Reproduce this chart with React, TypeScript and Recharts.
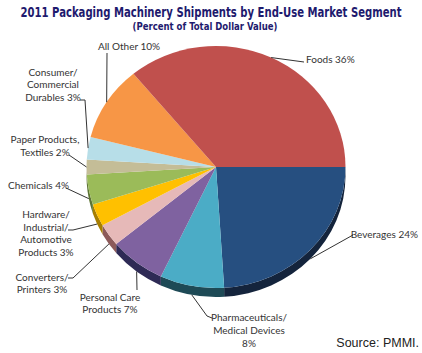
import React from 'react';
import { PieChart, Pie, Cell } from 'recharts';

// clockwise from 3 o'clock
const segments = [
  'Beverages',
  'Pharmaceuticals/Medical Devices',
  'Personal Care Products',
  'Converters/Printers',
  'Hardware/Industrial/Automotive Products',
  'Chemicals',
  'Paper Products, Textiles',
  'Consumer/Commercial Durables',
  'All Other',
  'Foods',
];
const shares = [24, 8, 7, 3, 3, 4, 2, 3, 10, 36];

const colors = ['#264F80', '#4BACC6', '#7F62A0', '#E6B9B8', '#FFC000', '#9BBB59', '#C4BD97', '#B7DEE8', '#F79646', '#C0504D'];
const sideColors = ['#14243C', '#1E4A56', '#2E2A55', '#8C5A5A', '#A77E00', '#5C7434', '#7D7657', '#6E8C94', '#A55E25', '#7A2E2C'];

// wrapped label text, {v} is replaced by the value
const labelLines: Record<string, string[]> = {
  'Beverages': ['Beverages {v}%'],
  'Pharmaceuticals/Medical Devices': ['Pharmaceuticals/', 'Medical Devices', '{v}%'],
  'Personal Care Products': ['Personal Care', 'Products {v}%'],
  'Converters/Printers': ['Converters/', 'Printers {v}%'],
  'Hardware/Industrial/Automotive Products': ['Hardware/', 'Industrial/', 'Automotive', 'Products {v}%'],
  'Chemicals': ['Chemicals {v}%'],
  'Paper Products, Textiles': ['Paper Products,', 'Textiles {v}%'],
  'Consumer/Commercial Durables': ['Consumer/', 'Commercial', 'Durables {v}%'],
  'All Other': ['All Other {v}%'],
  'Foods': ['Foods {v}%'],
};

type LabelPos = { x: number; y: number; anchor: 'start' | 'middle' | 'end'; gap: number; end: [number, number]; bend?: [number, number] };

const labelPos: Record<string, LabelPos> = {
  'Beverages': { x: 418, y: 238, anchor: 'end', gap: 12, end: [353, 235] },
  'Pharmaceuticals/Medical Devices': { x: 249, y: 321, anchor: 'middle', gap: 13, bend: [207, 316], end: [212, 318] },
  'Personal Care Products': { x: 110, y: 301, anchor: 'middle', gap: 12, end: [137, 290] },
  'Converters/Printers': { x: 42, y: 281, anchor: 'middle', gap: 11.5, bend: [73, 278], end: [68, 278] },
  'Hardware/Industrial/Automotive Products': { x: 46, y: 218, anchor: 'middle', gap: 12.7, bend: [73, 230], end: [68, 230] },
  'Chemicals': { x: 8, y: 189, anchor: 'start', gap: 12, end: [66, 188] },
  'Paper Products, Textiles': { x: 45, y: 143, anchor: 'middle', gap: 13, end: [69, 155] },
  'Consumer/Commercial Durables': { x: 53, y: 76, anchor: 'middle', gap: 12.3, bend: [85, 100], end: [80, 100] },
  'All Other': { x: 98, y: 50, anchor: 'start', gap: 12, end: [107, 53] },
  'Foods': { x: 306, y: 63, anchor: 'start', gap: 12, end: [304, 62] },
};

const data = segments.map((name, i) => ({ name, value: shares[i], side: sideColors[i] }));

const SQUASH = 0.934;
const DEPTH = 9;
const RAD = Math.PI / 180;

const pt = (cx: number, cy: number, rx: number, ry: number, a: number) =>
  [cx + rx * Math.cos(a * RAD), cy - ry * Math.sin(a * RAD)];

const Slice3D = (props: any) => {
  const { cx, cy, outerRadius, startAngle, endAngle, fill, payload } = props;
  const rx = outerRadius;
  const ry = outerRadius * SQUASH;
  const s = Math.max(startAngle, endAngle);
  const e = Math.min(startAngle, endAngle);
  const [x1, y1] = pt(cx, cy, rx, ry, s);
  const [x2, y2] = pt(cx, cy, rx, ry, e);
  const large = s - e > 180 ? 1 : 0;
  const top = `M${cx},${cy} L${x1},${y1} A${rx},${ry} 0 ${large} 1 ${x2},${y2} Z`;

  // visible side band only on the front (lower) half
  const hi = Math.min(s, 0);
  const lo = Math.max(e, -180);
  let side = null;
  if (lo < hi) {
    const [a1, b1] = pt(cx, cy, rx, ry, hi);
    const [a2, b2] = pt(cx, cy, rx, ry, lo);
    const d = `M${a1},${b1} A${rx},${ry} 0 0 1 ${a2},${b2} L${a2},${b2 + DEPTH} A${rx},${ry} 0 0 0 ${a1},${b1 + DEPTH} Z`;
    side = <path d={d} fill={payload.side} />;
  }
  return (
    <g>
      {side}
      <path d={top} fill={fill} />
    </g>
  );
};

const renderLabel = (props: any) => {
  const { cx, cy, outerRadius, midAngle, name, value } = props;
  const pos = labelPos[name];
  if (!pos) return null;
  const rx = outerRadius;
  const ry = outerRadius * SQUASH;
  let [sx, sy] = pt(cx, cy, rx, ry, midAngle);
  if (Math.sin(midAngle * RAD) < -0.1) sy += DEPTH;
  const pts = [[sx, sy], ...(pos.bend ? [pos.bend] : []), pos.end].map(p => p.join(',')).join(' ');
  const lines = labelLines[name].map(l => l.replace('{v}', String(value)));
  return (
    <g>
      <polyline points={pts} fill="none" stroke="#333" strokeWidth={1} />
      <text x={pos.x} y={pos.y} textAnchor={pos.anchor} fontFamily="Lato, sans-serif" fontSize={10} fill="#333">
        {lines.map((l, i) => (
          <tspan key={i} x={pos.x} dy={i === 0 ? 0 : pos.gap}>{l}</tspan>
        ))}
      </text>
    </g>
  );
};

const titleFont = "'DejaVu Sans Condensed', 'DejaVu Sans', sans-serif";

export default function App() {
  return (
    <div style={{ position: 'absolute', left: 0, top: 0, width: 422, height: 353, background: '#fff', overflow: 'hidden' }}>
      <PieChart width={422} height={353} margin={{ top: 0, right: 0, bottom: 0, left: 0 }}>
        <Pie
          data={data}
          dataKey="value"
          nameKey="name"
          cx={216}
          cy={167}
          outerRadius={129.5}
          startAngle={0}
          endAngle={-360}
          stroke="none"
          shape={Slice3D}
          label={renderLabel}
          labelLine={false}
          isAnimationActive={false}
        >
          {data.map((d, i) => (
            <Cell key={d.name} fill={colors[i]} />
          ))}
        </Pie>
      </PieChart>
      <svg width={422} height={353} style={{ position: 'absolute', left: 0, top: 0, pointerEvents: 'none' }}>
        <text transform="translate(211,17) scale(1,1.3)" textAnchor="middle" fontFamily={titleFont} fontWeight="bold" fontSize={11.2}
          fill="#1E1A6E" textLength={381} lengthAdjust="spacingAndGlyphs">
          2011 Packaging Machinery Shipments by End-Use Market Segment
        </text>
        <text transform="translate(205,29.5) scale(1,1.25)" textAnchor="middle" fontFamily={titleFont} fontWeight="bold" fontSize={8}
          fill="#1E1A6E" textLength={145} lengthAdjust="spacingAndGlyphs">
          (Percent of Total Dollar Value)
        </text>
        <text x={419} y={347} textAnchor="end" fontFamily="'Liberation Sans', Arial, sans-serif" fontSize={12.5} fill="#222">
          Source: PMMI.
        </text>
      </svg>
    </div>
  );
}
